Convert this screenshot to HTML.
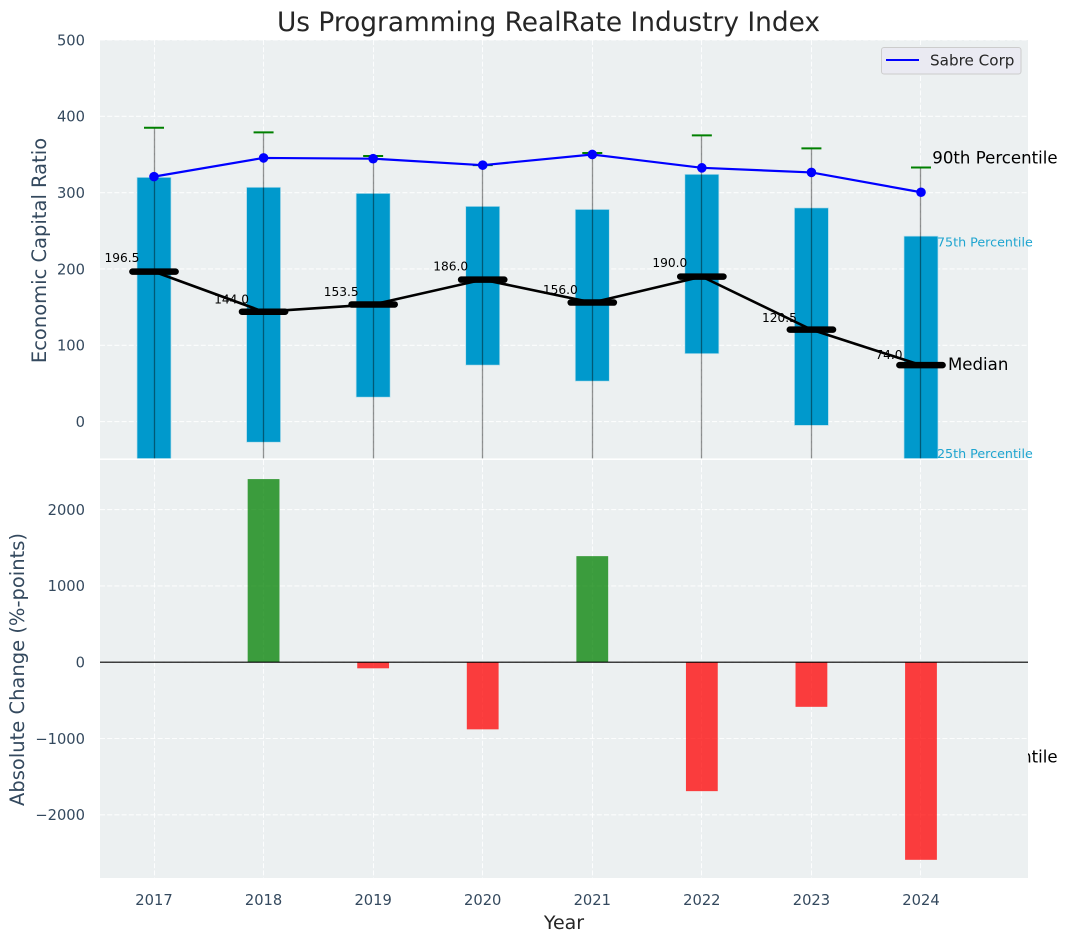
<!DOCTYPE html>
<html lang="en">
<head>
<meta charset="utf-8">
<title>Us Programming RealRate Industry Index</title>
<style>
html,body{margin:0;padding:0;background:#fff;}
svg{display:block;font-family:"DejaVu Sans","Liberation Sans",sans-serif;}
</style>
</head>
<body>
<svg id="chart" xmlns="http://www.w3.org/2000/svg" width="1067" height="942" viewBox="0 0 1067 942">
<defs>
<clipPath id="clip-top"><rect x="100" y="40" width="928" height="418.4"/></clipPath>
<clipPath id="clip-bot"><rect x="100" y="460" width="928" height="418"/></clipPath>
</defs>
</svg>
<script>
var years = [2017, 2018, 2019, 2020, 2021, 2022, 2023, 2024];
var p90 = [385, 379, 348, 336, 352, 375, 358, 333];
var q3 = [320, 307, 299, 282, 278, 324, 280, 243];
var medians = [196.5, 144.0, 153.5, 186.0, 156.0, 190.0, 120.5, 74.0];
var q1 = [-110, -27, 32, 74, 53, 89, -5, -55];
var p10 = [-420, -340, -280, -260, -250, -210, -300, -440];
var company = [321, 345.5, 344.5, 336, 350, 332.5, 326.5, 300.5];
var changeYears = [2018, 2019, 2020, 2021, 2022, 2023, 2024];
var changes = [2400, -80, -880, 1390, -1690, -585, -2590];
var topTicks = [500, 400, 300, 200, 100, 0];
var bottomTicks = [2000, 1000, 0, -1000, -2000];

var svg = document.getElementById('chart');
var NS = 'http://www.w3.org/2000/svg';
var LEFT = 100, RIGHT = 1028;

function xPos(year) { return 154 + (year - 2017) * 109.57; }
function xSnap(year) { return Math.floor(xPos(year)) + 0.5; }
function yTop(v) { return 421.6 - v * 0.7632; }
function yBot(v) { return 662.2 - v * 0.0763; }

function make(tag, attrs, name, parent) {
  var el = document.createElementNS(NS, tag);
  for (var k in attrs) el.setAttribute(k, attrs[k]);
  
  
  (parent || svg).appendChild(el);
  return el;
}
function txt(content, attrs, name, parent) {
  var el = make('text', attrs, name, parent);
  el.textContent = content;
  return el;
}
function grid(parent, yFn, ticks, y0, y1, label) {
  years.forEach(function (yr) {
    make('line', {x1: xSnap(yr), x2: xSnap(yr), y1: y0, y2: y1, stroke: '#fff', 'stroke-width': 1.1, 'stroke-dasharray': '5 2.2', 'stroke-opacity': 0.85}, label + '-vertical-gridline-' + yr, parent);
  });
  ticks.forEach(function (t) {
    make('line', {x1: LEFT, x2: RIGHT, y1: yFn(t), y2: yFn(t), stroke: '#fff', 'stroke-width': 1.1, 'stroke-dasharray': '5 2.2', 'stroke-opacity': 0.85}, label + '-horizontal-gridline-' + t, parent);
  });
}
function yTickLabels(yFn, ticks, label) {
  ticks.forEach(function (t) {
    txt(String(t).replace('-', '\u2212'), {x: 85, y: yFn(t) + 5.3, 'text-anchor': 'end', 'font-size': 14.7, fill: '#34495e'}, label + '-y-tick-' + t);
  });
}

/* Title and axis titles */
txt('Us Programming RealRate Industry Index', {x: 548.5, y: 31, 'text-anchor': 'middle', 'font-size': 26.4, fill: '#262626'}, 'chart-title');
txt('Economic Capital Ratio', {x: 0, y: 0, transform: 'translate(46 250.5) rotate(-90)', 'text-anchor': 'middle', 'font-size': 19.5, fill: '#34495e'}, 'top-y-axis-title');
txt('Absolute Change (%-points)', {x: 0, y: 0, transform: 'translate(24 669.5) rotate(-90)', 'text-anchor': 'middle', 'font-size': 19.5, fill: '#34495e'}, 'bottom-y-axis-title');
txt('Year', {x: 564, y: 929, 'text-anchor': 'middle', 'font-size': 19, fill: '#262626'}, 'x-axis-title');

/* Top panel */
make('rect', {x: LEFT, y: 40, width: RIGHT - LEFT, height: 418.4, fill: '#ecf0f1'}, 'top-panel-background');
yTickLabels(yTop, topTicks, 'top');
var topG = make('g', {'clip-path': 'url(#clip-top)'}, 'top-panel-plot');
grid(topG, yTop, topTicks, 40, 458.4, 'top');

years.forEach(function (yr, i) {
  make('rect', {x: xPos(yr) - 17, y: yTop(q3[i]), width: 34, height: yTop(q1[i]) - yTop(q3[i]), fill: '#0099cc', stroke: '#b9dfec', 'stroke-width': 0.7}, 'iqr-bar-' + yr, topG);
});
years.forEach(function (yr, i) {
  make('line', {x1: xSnap(yr), x2: xSnap(yr), y1: yTop(p90[i]), y2: yTop(p10[i]), stroke: '#000', 'stroke-opacity': 0.42, 'stroke-width': 1.3}, 'whisker-' + yr, topG);
  make('line', {x1: xPos(yr) - 10, x2: xPos(yr) + 10, y1: yTop(p90[i]), y2: yTop(p90[i]), stroke: '#008000', 'stroke-width': 2}, 'p90-cap-' + yr, topG);
});

var bluePts = years.map(function (yr, i) { return xPos(yr) + ',' + yTop(company[i]); }).join(' ');
make('polyline', {points: bluePts, fill: 'none', stroke: '#0000ff', 'stroke-width': 2.2}, 'sabre-corp-line', topG);
years.forEach(function (yr, i) {
  make('circle', {cx: xPos(yr), cy: yTop(company[i]), r: 4.8, fill: '#0000ff'}, 'sabre-corp-point-' + yr, topG);
});

years.forEach(function (yr, i) {
  txt(medians[i].toFixed(1), {x: xPos(yr) - 32, y: yTop(medians[i] * 1.035) - 4.3, 'text-anchor': 'middle', 'font-size': 12.2, fill: '#000'}, 'median-value-' + yr, topG);
});

var medPts = years.map(function (yr, i) { return xPos(yr) + ',' + yTop(medians[i]); }).join(' ');
make('polyline', {points: medPts, fill: 'none', stroke: '#000', 'stroke-width': 2.6}, 'median-line', topG);
years.forEach(function (yr, i) {
  make('line', {x1: xPos(yr) - 21.6, x2: xPos(yr) + 21.6, y1: yTop(medians[i]), y2: yTop(medians[i]), stroke: '#000', 'stroke-width': 6.5, 'stroke-linecap': 'round'}, 'median-marker-' + yr, topG);
});

/* Percentile annotations on the last year */
var last = years.length - 1;
var lastX = xPos(years[last]);
txt('90th Percentile', {x: lastX + 11.3, y: yTop(p90[last]) - 3.8, 'font-size': 16.6, fill: '#000'}, 'p90-annotation');
txt('75th Percentile', {x: lastX + 16, y: yTop(q3[last]) + 10.5, 'font-size': 12.7, fill: '#1fa5d0'}, 'q3-annotation');
txt('Median', {x: lastX + 27, y: yTop(medians[last]) + 5, 'font-size': 16.6, fill: '#000'}, 'median-annotation');
txt('25th Percentile', {x: lastX + 16, y: yTop(q1[last]) - 5.4, 'font-size': 12.7, fill: '#1fa5d0'}, 'q1-annotation');
txt('10th Percentile', {x: lastX + 11.3, y: yTop(p10[last]) + 5, 'font-size': 16.6, fill: '#000'}, 'p10-annotation');

/* Bottom panel covers the overflowing annotation */
make('rect', {x: LEFT, y: 460, width: RIGHT - LEFT, height: 418, fill: '#ecf0f1'}, 'bottom-panel-background');
yTickLabels(yBot, bottomTicks, 'bottom');
var botG = make('g', {'clip-path': 'url(#clip-bot)'}, 'bottom-panel-plot');
grid(botG, yBot, bottomTicks, 460, 878, 'bottom');

changeYears.forEach(function (yr, i) {
  var v = changes[i];
  make('rect', {x: xPos(yr) - 15.9, y: Math.min(yBot(v), yBot(0)), width: 31.8, height: Math.abs(yBot(v) - yBot(0)), fill: v >= 0 ? '#008000' : '#ff0000', 'fill-opacity': 0.75}, 'change-bar-' + yr, botG);
});
make('line', {x1: LEFT, x2: RIGHT, y1: yBot(0), y2: yBot(0), stroke: '#000', 'stroke-width': 1.2}, 'zero-line', botG);

years.forEach(function (yr) {
  txt(String(yr), {x: xPos(yr), y: 905, 'text-anchor': 'middle', 'font-size': 14.7, fill: '#34495e'}, 'x-tick-' + yr);
});

/* Legend */
var legend = make('g', {}, 'legend');
make('rect', {x: 881.5, y: 47.5, width: 139.5, height: 26.5, rx: 2.5, fill: '#eaeaf2', stroke: '#cccccc', 'stroke-width': 1}, 'legend-box', legend);
make('line', {x1: 886, x2: 919, y1: 60, y2: 60, stroke: '#0000ff', 'stroke-width': 2}, 'legend-line', legend);
txt('Sabre Corp', {x: 930, y: 65.5, 'font-size': 15.2, fill: '#262626'}, 'legend-label', legend);
</script>
</body>
</html>
